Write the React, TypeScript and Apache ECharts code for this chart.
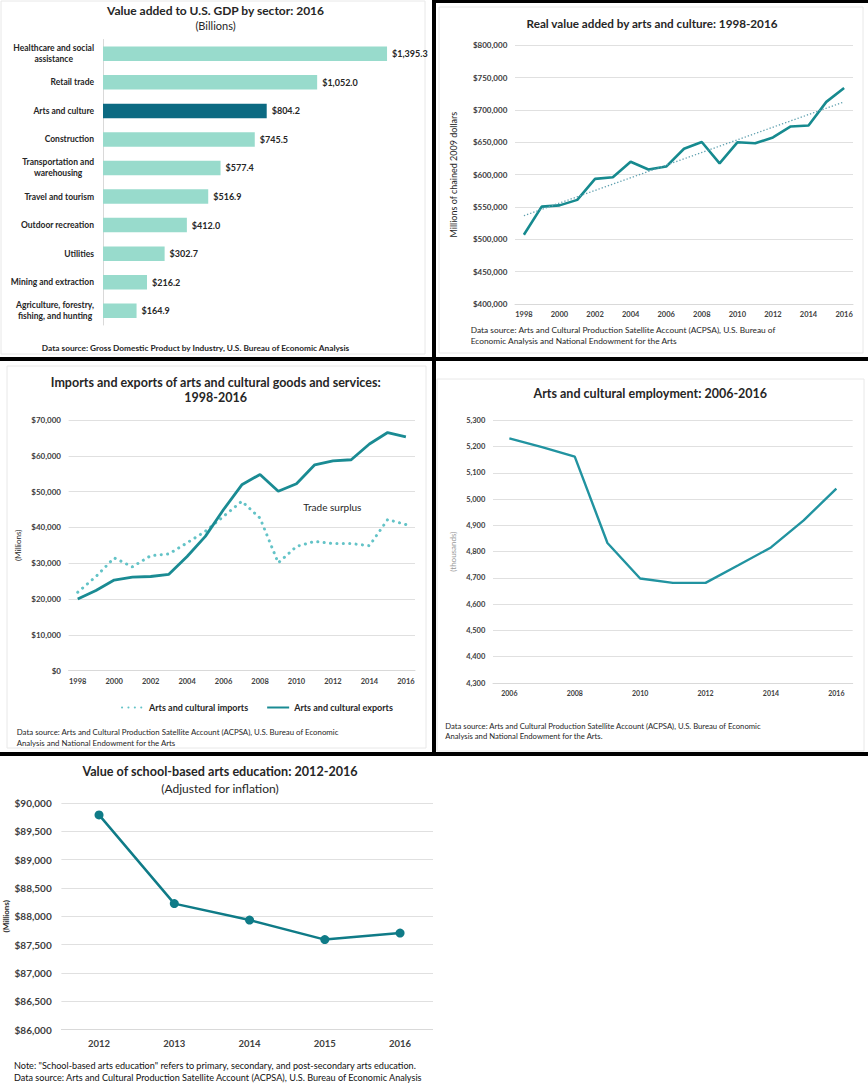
import React, { useEffect, useRef } from 'react';
import * as echarts from 'echarts';

// ---------- Data ----------
const sectors = [
  'Healthcare and social\nassistance',
  'Retail trade',
  'Arts and culture',
  'Construction',
  'Transportation and\nwarehousing',
  'Travel and tourism',
  'Outdoor recreation',
  'Utilities',
  'Mining and extraction',
  'Agriculture, forestry,\nfishing, and hunting',
];
const sectorValues = [1395.3, 1052.0, 804.2, 745.5, 577.4, 516.9, 412.0, 302.7, 216.2, 164.9];
const highlightSector = 'Arts and culture';

const realYears = ['1998', '1999', '2000', '2001', '2002', '2003', '2004', '2005', '2006', '2007', '2008', '2009', '2010', '2011', '2012', '2013', '2014', '2015', '2016'];
const realValueAdded = [507000, 550500, 552500, 561000, 593500, 596000, 620000, 608000, 612500, 640000, 650500, 617500, 650000, 648500, 657500, 674500, 676000, 712500, 734000];
const realTrendEnds = [536500, 712500];

const tradeYears = realYears;
const tradeImports = [21900, 26300, 31500, 29000, 32100, 32600, 35700, 38900, 43100, 47300, 42600, 30100, 34700, 36100, 35500, 35500, 34900, 42200, 40800];
const tradeExports = [20000, 22400, 25300, 26100, 26300, 26900, 31900, 37500, 45000, 51900, 54800, 50100, 52200, 57500, 58600, 58900, 63300, 66500, 65300];

const employmentYears = ['2006', '2007', '2008', '2009', '2010', '2011', '2012', '2013', '2014', '2015', '2016'];
const employment = [5231, 5198, 5162, 4833, 4698, 4681, 4681, 4748, 4816, 4919, 5040];

const eduYears = ['2012', '2013', '2014', '2015', '2016'];
const eduValues = [89790, 88225, 87935, 87590, 87705];

// ---------- Styling helpers ----------
const FONT = 'Lato';
const TXT = '#262626';
const GRID_LINE = '#e0e0e0';
const fmt = (n: number) => n.toLocaleString('en-US');
const dollar = (n: number) => '$' + fmt(n);

function txt(x: number, y: number, text: string, size: number, weight: string = 'normal', align: string = 'center', color: string = TXT) {
  return {
    type: 'text',
    x,
    y,
    z: 50,
    style: {
      text,
      fill: color,
      fontFamily: FONT,
      fontSize: size,
      fontWeight: weight,
      align,
      verticalAlign: 'middle',
      textAlign: align,
      textVerticalAlign: 'middle',
    },
  };
}
function blackRect(x: number, y: number, w: number, h: number) {
  return { type: 'rect', z: 60, shape: { x, y, width: w, height: h }, style: { fill: '#000' } };
}
function frame(x: number, y: number, w: number, h: number) {
  return { type: 'rect', z: 1, shape: { x, y, width: w, height: h }, style: { fill: 'none', stroke: '#e8e8e8', lineWidth: 1 } };
}

function valueY(gridIndex: number, min: number, max: number, interval: number, fontSize: number, margin: number, formatter: (v: number) => string, name?: string, nameGap?: number, nameStyle?: any) {
  return {
    type: 'value',
    gridIndex,
    min,
    max,
    interval,
    name: name || '',
    nameLocation: 'middle',
    nameRotate: 90,
    nameGap: nameGap || 0,
    nameTextStyle: Object.assign({ fontFamily: FONT, fontSize: 9, color: TXT }, nameStyle || {}),
    axisLine: { show: false },
    axisTick: { show: false },
    axisLabel: { fontFamily: FONT, fontSize, fontWeight: 'bold', color: '#404040', margin, formatter },
    splitLine: { lineStyle: { color: GRID_LINE, width: 1 } },
  };
}
function catX(gridIndex: number, data: string[], fontSize: number, margin: number, interval: number) {
  return {
    type: 'category',
    gridIndex,
    data,
    boundaryGap: true,
    axisLine: { lineStyle: { color: '#d9d9d9' } },
    axisTick: { show: false },
    axisLabel: { interval, fontFamily: FONT, fontSize, fontWeight: 'bold', color: '#404040', margin },
  };
}

const lightBar = '#98dbcc';
const darkBar = '#0c6a82';
const CAT_SIZE = 8.5;

// Two-line category labels: lines centred on each other, block right-aligned to the axis.
function buildSectorCategories() {
  const ctx = document.createElement('canvas').getContext('2d') as CanvasRenderingContext2D;
  ctx.font = 'bold ' + CAT_SIZE + 'px ' + FONT;
  return sectors.map((name) => {
    if (name.indexOf('\n') < 0) return name;
    const maxW = Math.max(...name.split('\n').map((l) => ctx.measureText(l).width));
    return { value: name, textStyle: { align: 'center', padding: [0, maxW, 0, 0] } };
  });
}

function buildOption() {
  return {
    animation: false,
    textStyle: { fontFamily: FONT },
    grid: [
      { left: 103, top: 39.5, width: 285, height: 285.5, containLabel: false, outerBoundsMode: 'none' },
      { left: 515, top: 45.3, width: 338, height: 258.7, containLabel: false, outerBoundsMode: 'none' },
      { left: 68.6, top: 420, width: 346.4, height: 250.7, containLabel: false, outerBoundsMode: 'none' },
      { left: 493, top: 420.3, width: 359.7, height: 262.7, containLabel: false, outerBoundsMode: 'none' },
      { left: 61.4, top: 803, width: 376.3, height: 226.7, containLabel: false, outerBoundsMode: 'none' },
    ],
    xAxis: [
      { type: 'value', gridIndex: 0, min: 0, max: 1400, show: false, splitLine: { show: false } },
      catX(1, realYears, 7.5, 6.5, 1),
      catX(2, tradeYears, 7.5, 6.5, 1),
      catX(3, employmentYears, 7, 6.5, 1),
      catX(4, eduYears, 9.5, 8.5, 0),
    ],
    yAxis: [
      {
        type: 'category',
        gridIndex: 0,
        inverse: true,
        data: buildSectorCategories(),
        axisLine: { show: true, lineStyle: { color: '#d9d9d9' } },
        axisTick: { show: false },
        axisLabel: {
          margin: 9,
          fontFamily: FONT,
          fontSize: CAT_SIZE,
          fontWeight: 'bold',
          color: TXT,
          lineHeight: 11,
        },
      },
      valueY(1, 400000, 800000, 50000, 8, 7.7, dollar, 'Millions of chained 2009 dollars', 57, { fontSize: 9 }),
      valueY(2, 0, 70000, 10000, 8, 7.6, dollar, '(Millions)', 46.6, { fontSize: 8 }),
      valueY(3, 4300, 5300, 100, 7.5, 7.7, fmt, '(thousands)', 36, { fontSize: 8, color: '#999' }),
      valueY(4, 86000, 90000, 500, 10, 9.7, dollar, '(Millions)', 51.4, { fontSize: 8, fontWeight: 'bold' }),
    ],
    legend: {
      left: 116,
      top: 698,
      itemWidth: 22,
      itemHeight: 8,
      itemGap: 18,
      data: ['Arts and cultural imports', 'Arts and cultural exports'],
      itemStyle: { opacity: 0 },
      textStyle: { fontFamily: FONT, fontSize: 9, fontWeight: 'bold', color: TXT },
    },
    series: [
      {
        type: 'bar',
        xAxisIndex: 0,
        yAxisIndex: 0,
        barWidth: 14.5,
        data: sectorValues.map((v, i) => ({ value: v, itemStyle: { color: sectors[i] === highlightSector ? darkBar : lightBar } })),
        label: {
          show: true,
          position: 'right',
          distance: 5,
          fontFamily: FONT,
          fontSize: 9,
          fontWeight: 'bold',
          color: TXT,
          formatter: (p: any) => '$' + p.value.toLocaleString('en-US', { minimumFractionDigits: 1, maximumFractionDigits: 1 }),
        },
      },
      {
        type: 'line',
        xAxisIndex: 1,
        yAxisIndex: 1,
        data: realValueAdded,
        symbol: 'none',
        lineStyle: { color: '#168a8f', width: 2.6 },
        z: 3,
      },
      {
        type: 'line',
        xAxisIndex: 1,
        yAxisIndex: 1,
        data: realYears.map((_, i) => (i === 0 ? realTrendEnds[0] : i === realYears.length - 1 ? realTrendEnds[1] : null)),
        connectNulls: true,
        symbol: 'none',
        lineStyle: { color: '#5e9fae', width: 1.3, type: [1.3, 2] },
        z: 4,
      },
      {
        name: 'Arts and cultural imports',
        type: 'line',
        xAxisIndex: 2,
        yAxisIndex: 2,
        data: tradeImports,
        symbol: 'none',
        lineStyle: { color: '#63c3c7', width: 3, type: [0.1, 6.3], cap: 'round' },
        itemStyle: { color: '#63c3c7' },
        z: 3,
      },
      {
        name: 'Arts and cultural exports',
        type: 'line',
        xAxisIndex: 2,
        yAxisIndex: 2,
        data: tradeExports,
        symbol: 'none',
        lineStyle: { color: '#1a8b93', width: 2.8 },
        itemStyle: { color: '#1a8b93' },
        z: 4,
      },
      {
        type: 'line',
        xAxisIndex: 3,
        yAxisIndex: 3,
        data: employment,
        symbol: 'none',
        lineStyle: { color: '#2193a0', width: 2.4 },
      },
      {
        type: 'line',
        xAxisIndex: 4,
        yAxisIndex: 4,
        data: eduValues,
        symbol: 'circle',
        symbolSize: 9,
        lineStyle: { color: '#0f7b87', width: 2.5 },
        itemStyle: { color: '#0f7b87' },
      },
    ],
    graphic: {
      elements: [
        frame(1, 1, 424, 353),
        frame(439, 7, 424, 346),
        frame(7, 366, 419, 382),
        frame(437, 379, 427, 372),
        { type: 'rect', z: 40, shape: { x: 433, y: 756, width: 435, height: 331 }, style: { fill: '#fff' } },
        blackRect(432, 0, 4, 756),
        blackRect(432, 0, 436, 3),
        blackRect(0, 357, 868, 4),
        blackRect(0, 752, 868, 4),
        // Panel 1
        txt(215.5, 10, 'Value added to U.S. GDP by sector: 2016', 12, 'bold'),
        txt(215.5, 25.7, '(Billions)', 11, 'normal'),
        txt(195.5, 347.7, 'Data source: Gross Domestic Product by Industry, U.S. Bureau of Economic Analysis', 8.3, 'bold'),
        // Panel 2
        txt(652, 23.3, 'Real value added by arts and culture: 1998-2016', 11.7, 'bold'),
        txt(470.7, 330, 'Data source: Arts and Cultural Production Satellite Account (ACPSA), U.S. Bureau of', 8.35, 'normal', 'left'),
        txt(470.7, 340.7, 'Economic Analysis and National Endowment for the Arts', 8.35, 'normal', 'left'),
        // Panel 3
        txt(215.7, 382, 'Imports and exports of arts and cultural goods and services:', 12.5, 'bold'),
        txt(215.7, 397.3, '1998-2016', 12.5, 'bold'),
        txt(332.3, 507.3, 'Trade surplus', 10, 'normal'),
        txt(16.7, 732.3, 'Data source: Arts and Cultural Production Satellite Account (ACPSA), U.S. Bureau of Economic', 7.85, 'normal', 'left'),
        txt(16.7, 742.7, 'Analysis and National Endowment for the Arts', 7.85, 'normal', 'left'),
        // Panel 4
        txt(650.3, 393.7, 'Arts and cultural employment: 2006-2016', 12.5, 'bold'),
        txt(445.3, 725.7, 'Data source: Arts and Cultural Production Satellite Account (ACPSA), U.S. Bureau of Economic', 7.7, 'normal', 'left'),
        txt(445.3, 735.7, 'Analysis and National Endowment for the Arts.', 7.7, 'normal', 'left'),
        // Panel 5
        txt(220, 771.3, 'Value of school-based arts education: 2012-2016', 12.6, 'bold'),
        txt(220, 788, '(Adjusted for inflation)', 12, 'normal'),
        txt(14, 1065.3, 'Note: "School-based arts education" refers to primary, secondary, and post-secondary arts education.', 9.1, 'normal', 'left', '#111'),
        txt(14, 1077.3, 'Data source: Arts and Cultural Production Satellite Account (ACPSA), U.S. Bureau of Economic Analysis', 9.1, 'normal', 'left', '#111'),
      ],
    },
  };
}

export default function App() {
  const ref = useRef<HTMLDivElement>(null);
  useEffect(() => {
    document.body.style.margin = '0';
    const chart = echarts.init(ref.current as HTMLDivElement, null, { renderer: 'svg', width: 868, height: 1087 });
    chart.setOption(buildOption() as any);
    return () => chart.dispose();
  }, []);
  return (
    <div
      ref={ref}
      style={{ width: 868, height: 1087, position: 'absolute', left: 0, top: 0, background: '#fff' }}
    />
  );
}
